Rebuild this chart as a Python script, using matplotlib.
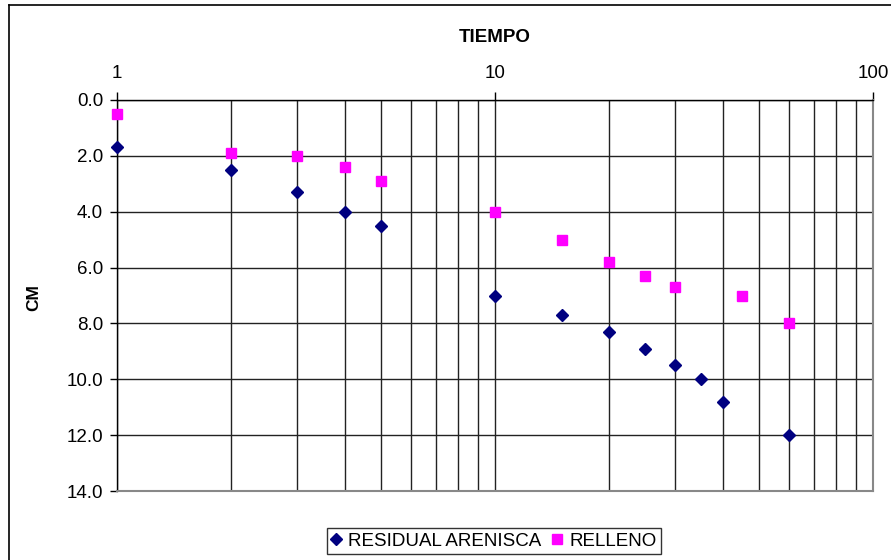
import matplotlib.pyplot as plt
from matplotlib.lines import Line2D
from matplotlib.ticker import FixedLocator, FormatStrFormatter, NullFormatter

plt.rcParams['font.family'] = ['Liberation Sans', 'DejaVu Sans']

# tiempo vs. profundidad (cm)
t_residual = [1, 2, 3, 4, 5, 10, 15, 20, 25, 30, 35, 40, 60]
cm_residual = [1.7, 2.5, 3.3, 4.0, 4.5, 7.0, 7.7, 8.3, 8.9, 9.5, 10.0, 10.8, 12.0]

t_relleno = [1, 2, 3, 4, 5, 10, 15, 20, 25, 30, 45, 60]
cm_relleno = [0.5, 1.9, 2.0, 2.4, 2.9, 4.0, 5.0, 5.8, 6.3, 6.7, 7.0, 8.0]

x_ticks = [1, 10, 100]
y_ticks = [0, 2, 4, 6, 8, 10, 12, 14]

fig = plt.figure(figsize=(8.91, 5.6), dpi=100)
ax = fig.add_axes([117 / 891, 69 / 560, 756 / 891, 391 / 560])

ax.plot(t_residual, cm_residual, linestyle='none', marker='D', markersize=6,
        color='#000080', label='RESIDUAL ARENISCA', clip_on=False, zorder=5)
ax.plot(t_relleno, cm_relleno, linestyle='none', marker='s', markersize=6.5,
        color='#FF00FF', label='RELLENO', clip_on=False, zorder=5)

ax.set_xscale('log')
ax.set_xlim(1, 100)
ax.set_ylim(14, 0)

ax.xaxis.tick_top()
ax.xaxis.set_major_locator(FixedLocator(x_ticks))
ax.xaxis.set_major_formatter(FormatStrFormatter('%d'))
minor = [m * d for d in (1, 10) for m in range(2, 10)]
ax.xaxis.set_minor_locator(FixedLocator(minor))
ax.xaxis.set_minor_formatter(NullFormatter())
ax.tick_params(axis='x', which='major', length=6, width=1, labelsize=13.5, pad=7)
ax.tick_params(axis='x', which='minor', length=0)

ax.set_yticks(y_ticks)
ax.yaxis.set_major_formatter(FormatStrFormatter('%.1f'))
ax.tick_params(axis='y', length=5, width=1, labelsize=13.5, pad=5)

ax.grid(True, which='both', axis='x', color='#222222', linewidth=1)
ax.grid(True, which='major', axis='y', color='#222222', linewidth=1)

for side in ('left', 'top'):
    ax.spines[side].set_color('#000000')
    ax.spines[side].set_linewidth(1)
for side in ('right', 'bottom'):
    ax.spines[side].set_color('#888888')
    ax.spines[side].set_linewidth(1.5)

fig.text(495 / 891, 1 - 38 / 560, 'TIEMPO', ha='center', va='center',
         fontsize=13.5, fontweight='bold')
fig.text(34 / 891, 1 - 298 / 560, 'CM', ha='center', va='center',
         rotation=90, fontsize=12.5, fontweight='bold')

leg = fig.legend(loc='center', bbox_to_anchor=(494 / 891, 1 - 541 / 560),
                 ncol=2, fontsize=13.5, frameon=True, fancybox=False,
                 handlelength=0.5, handletextpad=0.4, columnspacing=0.6,
                 borderpad=0.25, borderaxespad=0)
leg.get_frame().set_edgecolor('#000000')
leg.get_frame().set_linewidth(1)

# outer chart border
fig.add_artist(Line2D([9 / 891, 9 / 891], [0, 1 - 5 / 560], color='#000000', lw=1.2))
fig.add_artist(Line2D([9 / 891, 1], [1 - 5 / 560, 1 - 5 / 560], color='#000000', lw=1.2))

fig.savefig('out.png', dpi=100)
